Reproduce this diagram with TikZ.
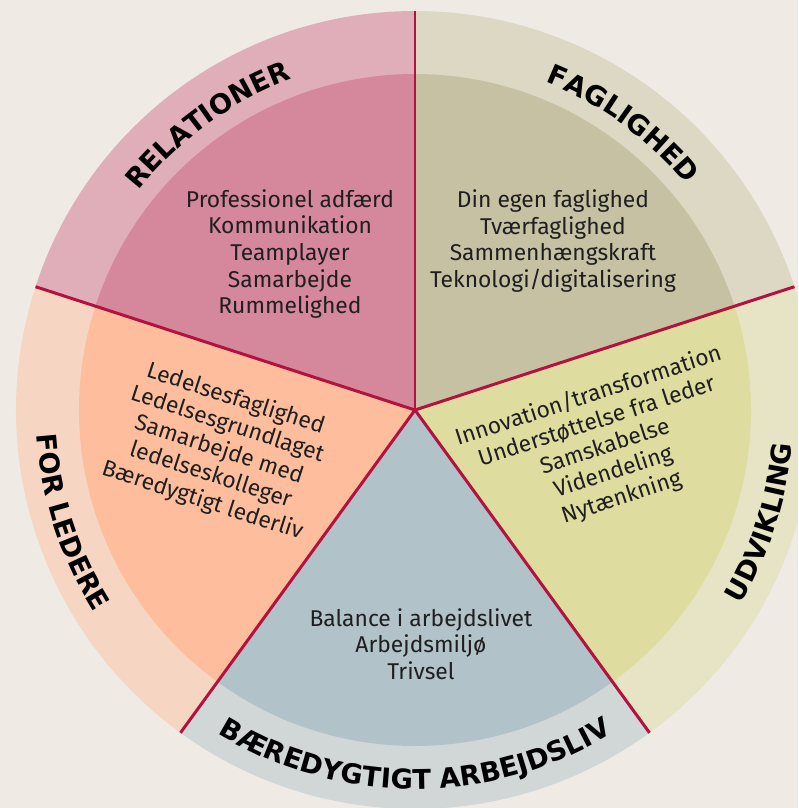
\documentclass[tikz,border=0pt]{standalone}
\usepackage{fontspec}
\setmainfont{Fira Sans}
\newfontfamily\headfont{DejaVu Sans}
\usetikzlibrary{decorations.text}

% Farver
\definecolor{baggrund}{HTML}{EFEBE4}
\definecolor{streg}{HTML}{B4123E}
\definecolor{relYdre}{HTML}{E0AEB8}
\definecolor{relIndre}{HTML}{D5879B}
\definecolor{fagYdre}{HTML}{DCD8C3}
\definecolor{fagIndre}{HTML}{C6C1A2}
\definecolor{ledYdre}{HTML}{F6D6C3}
\definecolor{ledIndre}{HTML}{FEBE9E}
\definecolor{arbYdre}{HTML}{D1D7D7}
\definecolor{arbIndre}{HTML}{B2C2C9}
\definecolor{udvYdre}{HTML}{E6E4C5}
\definecolor{udvIndre}{HTML}{DEDC9F}

\newcommand{\overskrift}{\headfont\bfseries\fontsize{15.5}{18}\selectfont}

\tikzset{
    punkter/.style={align=center, text=black!88, font=\fontsize{13}{15.2}\selectfont},
    eger/.style={streg, line width=1.7pt},
    bue/.style={decorate, decoration={text along path, text align=center, text={|\overskrift|#1}}}
}

\begin{document}
\begin{tikzpicture}[scale=0.02]
    \useasboundingbox (-415,-398) rectangle (383,410);
    \fill[baggrund] (-415,-398) rectangle (383,410);
    \clip (-415,-398) rectangle (383,410);
    \coordinate (midte) at (0,0);

    % Sektorer: ydre ring og indre felt
    \foreach \start/\ydre/\indre in {90/relYdre/relIndre, 18/fagYdre/fagIndre,
            162/ledYdre/ledIndre, 234/arbYdre/arbIndre, 306/udvYdre/udvIndre} {
        \fill[\ydre] (midte) -- (\start:399) arc[start angle=\start, end angle=\start+72, radius=399] -- cycle;
        \fill[\indre] (midte) -- (\start:336) arc[start angle=\start, end angle=\start+72, radius=336] -- cycle;
    }

    % Eger
    \foreach \v in {18,90,162,234,306} {
        \draw[eger] (midte) -- (\v:399);
    }

    % Overskrifter langs ringen
    \path[bue=RELATIONER] (162:353) arc[start angle=162, end angle=90, radius=353];
    \path[bue=FAGLIGHED] (90:353) arc[start angle=90, end angle=18, radius=353];
    \path[bue=FOR LEDERE] (162:379) arc[start angle=162, end angle=234, radius=379];
    \path[bue=BÆREDYGTIGT ARBEJDSLIV] (228:379) arc[start angle=228, end angle=312, radius=379];
    \path[bue=UDVIKLING] (306:379) arc[start angle=306, end angle=378, radius=379];

    % Indhold i felterne
    \node[punkter] (relationer) at (-125,156) {Professionel adfærd\\Kommunikation\\Teamplayer\\Samarbejde\\Rummelighed};
    \node[punkter] (faglighed) at (138,169) {Din egen faglighed\\Tværfaglighed\\Sammenhængskraft\\Teknologi/digitalisering};
    \node[punkter, rotate=-18] (ledere) at (-196,-40) {Ledelsesfaglighed\\Ledelsesgrundlaget\\Samarbejde med\\ledelseskolleger\\Bæredygtigt lederliv};
    \node[punkter] (arbejdsliv) at (6,-234) {Balance i arbejdslivet\\Arbejdsmiljø\\Trivsel};
    \node[punkter, rotate=18] (udvikling) at (190,-37) {Innovation/transformation\\Understøttelse fra leder\\Samskabelse\\Videndeling\\Nytænkning};
\end{tikzpicture}
\end{document}
